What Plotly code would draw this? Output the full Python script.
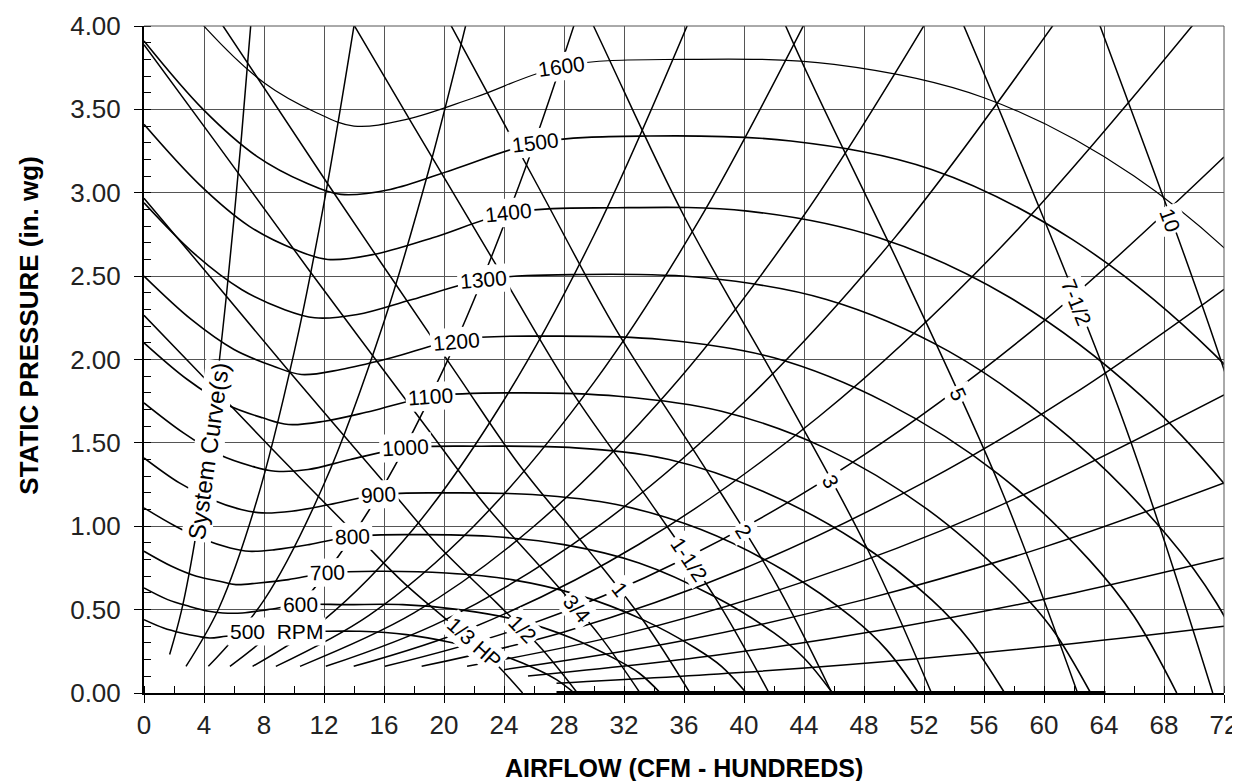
import plotly.graph_objects as go

# ---------------- RPM curves (x = CFM hundreds, y = in. wg) ----------------
rpm1600_x = [0, 4.2, 8.0, 11.5, 14.0, 17.5, 22, 28, 36, 46, 56, 66, 76, 84, 88, 91.8]
rpm1600_y = [4.45, 3.98, 3.66, 3.48, 3.40, 3.44, 3.57, 3.76, 3.80, 3.77, 3.57, 3.10, 2.32, 1.42, 0.82, 0.0]
rpm1500_x = [0, 3.94, 7.50, 10.78, 13.13, 16.41, 20.63, 26.25, 33.75, 43.13, 52.5, 61.88, 71.25, 78.75, 82.5, 86.06]
rpm1500_y = [3.91, 3.50, 3.22, 3.06, 2.99, 3.02, 3.14, 3.30, 3.34, 3.31, 3.14, 2.72, 2.04, 1.25, 0.72, 0.0]
rpm1400_x = [0, 3.68, 7.0, 10.06, 12.25, 15.31, 19.25, 24.5, 31.5, 40.25, 49.0, 57.75, 66.5, 73.5, 77.0, 80.33]
rpm1400_y = [3.41, 3.05, 2.80, 2.66, 2.60, 2.63, 2.73, 2.88, 2.91, 2.89, 2.73, 2.37, 1.78, 1.09, 0.63, 0.0]
rpm1300_x = [0, 3.41, 6.5, 9.34, 11.38, 14.22, 17.88, 22.75, 29.25, 37.38, 45.5, 53.63, 61.75, 68.25, 71.5, 74.59]
rpm1300_y = [2.94, 2.63, 2.42, 2.30, 2.25, 2.27, 2.36, 2.48, 2.51, 2.49, 2.36, 2.05, 1.53, 0.94, 0.54, 0.0]
rpm1200_x = [0, 3.15, 6.0, 8.63, 10.5, 13.13, 16.5, 21.0, 27.0, 34.5, 42.0, 49.5, 57.0, 63.0, 66.0, 68.85]
rpm1200_y = [2.50, 2.24, 2.06, 1.96, 1.91, 1.94, 2.01, 2.12, 2.14, 2.12, 2.01, 1.74, 1.31, 0.80, 0.46, 0.0]
rpm1100_x = [0, 2.89, 5.5, 7.91, 9.63, 12.03, 15.13, 19.25, 24.75, 31.63, 38.5, 45.38, 52.25, 57.75, 60.5, 63.11]
rpm1100_y = [2.10, 1.88, 1.73, 1.65, 1.61, 1.63, 1.69, 1.78, 1.80, 1.78, 1.69, 1.47, 1.10, 0.67, 0.39, 0.0]
rpm1000_x = [0, 2.63, 5.0, 7.19, 8.75, 10.94, 13.75, 17.5, 22.5, 28.75, 35.0, 41.25, 47.5, 52.5, 55.0, 57.38]
rpm1000_y = [1.74, 1.56, 1.43, 1.36, 1.33, 1.34, 1.40, 1.47, 1.48, 1.47, 1.40, 1.21, 0.91, 0.56, 0.32, 0.0]
rpm900_x = [0, 2.36, 4.5, 6.47, 7.88, 9.84, 12.38, 15.75, 20.25, 25.88, 31.5, 37.13, 42.75, 47.25, 49.5, 51.64]
rpm900_y = [1.41, 1.26, 1.16, 1.10, 1.08, 1.09, 1.13, 1.19, 1.20, 1.19, 1.13, 0.98, 0.73, 0.45, 0.26, 0.0]
rpm800_x = [0, 2.1, 4.0, 5.75, 7.0, 8.75, 11.0, 14.0, 18.0, 23.0, 28.0, 33.0, 38.0, 42.0, 44.0, 45.9]
rpm800_y = [1.11, 1.00, 0.92, 0.87, 0.85, 0.86, 0.89, 0.94, 0.95, 0.94, 0.89, 0.78, 0.58, 0.36, 0.21, 0.0]
rpm700_x = [0, 1.84, 3.5, 5.03, 6.13, 7.66, 9.63, 12.25, 15.75, 20.13, 24.5, 28.88, 33.25, 36.75, 38.5, 40.16]
rpm700_y = [0.85, 0.76, 0.70, 0.67, 0.65, 0.66, 0.68, 0.72, 0.73, 0.72, 0.68, 0.59, 0.44, 0.27, 0.16, 0.0]
rpm600_x = [0, 1.58, 3.0, 4.31, 5.25, 6.56, 8.25, 10.5, 13.5, 17.25, 21.0, 24.75, 28.5, 31.5, 33.0, 34.43]
rpm600_y = [0.63, 0.56, 0.52, 0.49, 0.48, 0.48, 0.50, 0.53, 0.53, 0.53, 0.50, 0.44, 0.33, 0.20, 0.12, 0.0]
rpm500_x = [0, 1.31, 2.5, 3.59, 4.38, 5.47, 6.88, 8.75, 11.25, 14.38, 17.5, 20.63, 23.75, 26.25, 27.5, 28.69]
rpm500_y = [0.44, 0.39, 0.36, 0.34, 0.33, 0.34, 0.35, 0.37, 0.37, 0.37, 0.35, 0.30, 0.23, 0.14, 0.08, 0.0]

rpm_label_text = ["1600", "1500", "1400", "1300", "1200", "1100", "1000", "900", "800", "700", "600",
                  "500\u00a0\u00a0RPM"]
rpm_label_x = [27.8, 26.1, 24.3, 22.6, 20.85, 19.1, 17.4, 15.6, 13.9, 12.2, 10.4, 8.8]
rpm_label_y = [3.76, 3.30, 2.88, 2.48, 2.11, 1.78, 1.47, 1.19, 0.94, 0.72, 0.53, 0.37]
rpm_label_angle = [-8, -7, -6, -5, -5, -4, -3, -3, -2, -2, -1, 0]

# ---------------- Brake horsepower lines ----------------
hp13_x = [0, 3.654, 8.459, 14.42, 17.34, 20.52, 23.16, 25.24]
hp13_y = [2.265, 1.923, 1.471, 0.923, 0.659, 0.413, 0.202, 0.0]
hp12_x = [0, 4.183, 9.683, 16.51, 19.84, 23.49, 26.51, 28.89]
hp12_y = [2.967, 2.520, 1.928, 1.210, 0.863, 0.542, 0.265, 0.0]
hp34_x = [0, 4.788, 11.08, 18.90, 22.72, 26.89, 30.35, 33.07]
hp34_y = [3.888, 3.302, 2.526, 1.585, 1.131, 0.710, 0.347, 0.0]
hp1_x = [0, 5.27, 12.2, 20.8, 25.0, 29.6, 33.4, 36.4]
hp1_y = [4.71, 4.00, 3.06, 1.92, 1.37, 0.86, 0.42, 0.0]
hp1h_x = [0, 6.033, 13.97, 23.81, 28.62, 33.88, 38.23, 41.67]
hp1h_y = [6.172, 5.242, 4.010, 2.516, 1.795, 1.127, 0.550, 0.0]
hp2_x = [0, 6.640, 15.37, 26.21, 31.50, 37.29, 42.08, 45.86]
hp2_y = [7.477, 6.350, 4.857, 3.048, 2.175, 1.365, 0.667, 0.0]
hp3_x = [0, 7.600, 17.59, 30.00, 36.06, 42.69, 48.17, 52.50]
hp3_y = [9.797, 8.320, 6.365, 3.994, 2.850, 1.789, 0.874, 0.0]
hp5_x = [0, 9.012, 20.86, 35.57, 42.75, 50.62, 57.11, 62.24]
hp5_y = [13.77, 11.70, 8.947, 5.614, 4.006, 2.515, 1.228, 0.0]
hp7h_x = [0, 10.32, 23.88, 40.71, 48.94, 57.94, 65.38, 71.25]
hp7h_y = [18.05, 15.33, 11.72, 7.356, 5.249, 3.295, 1.609, 0.0]
hp10_x = [0, 11.35, 26.28, 44.81, 53.86, 63.77, 71.96, 78.42]
hp10_y = [21.86, 18.57, 14.20, 8.912, 6.359, 3.992, 1.950, 0.0]

hp_label_text = ["1/3 HP", "1/2", "3/4", "1", "1-1/2", "2", "3", "5", "7-1/2", "10"]
hp_label_x = [22.0, 25.2, 28.85, 31.75, 36.34, 40.0, 45.79, 54.29, 62.15, 68.4]
hp_label_y = [0.30, 0.385, 0.505, 0.62, 0.80, 0.97, 1.27, 1.79, 2.34, 2.84]
hp_label_angle = [42, 46, 50, 52, 56, 58, 62, 66, 68, 70]

# ---------------- System curves ----------------
sc01_x = [1.71, 2.5, 3.5, 4.5, 5.5, 6.5, 7.2]
sc01_y = [0.231, 0.494, 0.968, 1.600, 2.390, 3.338, 4.095]
sc02_x = [2.80, 5, 7.5, 10, 12, 14.2]
sc02_y = [0.160, 0.510, 1.148, 2.040, 2.938, 4.113]
sc03_x = [4.29, 8, 12, 16, 19, 21.6]
sc03_y = [0.160, 0.557, 1.253, 2.227, 3.141, 4.059]
sc04_x = [5.73, 10, 15, 20, 25, 29]
sc04_y = [0.160, 0.487, 1.096, 1.948, 3.044, 4.096]
sc05_x = [7.24, 12, 18, 24, 30, 36.5]
sc05_y = [0.160, 0.439, 0.988, 1.757, 2.745, 4.063]
sc06_x = [8.79, 15, 22, 30, 37, 44.2]
sc06_y = [0.160, 0.466, 1.002, 1.863, 2.834, 4.044]
sc07_x = [10.40, 18, 26, 35, 44, 52.2]
sc07_y = [0.160, 0.480, 1.000, 1.813, 2.865, 4.033]
sc08_x = [12.12, 20, 30, 40, 50, 60.8]
sc08_y = [0.160, 0.436, 0.981, 1.744, 2.725, 4.029]
sc09_x = [13.98, 22, 33, 45, 57, 70.2]
sc09_y = [0.160, 0.396, 0.892, 1.658, 2.661, 4.036]
sc10_x = [16.06, 25, 36, 48, 60, 72]
sc10_y = [0.160, 0.3875, 0.8035, 1.4285, 2.232, 3.214]
sc11_x = [18.51, 28, 40, 52, 62, 72]
sc11_y = [0.160, 0.366, 0.747, 1.263, 1.795, 2.421]
sc12_x = [21.54, 32, 44, 56, 72]
sc12_y = [0.160, 0.353, 0.668, 1.082, 1.788]
sc13_x = [24.0, 36, 48, 60, 72]
sc13_y = [0.140, 0.315, 0.560, 0.875, 1.260]
sc14_x = [25.6, 38, 50, 62, 72]
sc14_y = [0.102, 0.225, 0.390, 0.600, 0.809]
sc15_x = [27.5, 40, 52, 62, 72]
sc15_y = [0.058, 0.124, 0.209, 0.297, 0.400]

system_label_text = "System Curve(s)"
system_label_x = 4.28
system_label_y = 1.45

baseline_x = [27.5, 64.1]
baseline_y = [0.0, 0.0]

x_ticks = [0, 4, 8, 12, 16, 20, 24, 28, 32, 36, 40, 44, 48, 52, 56, 60, 64, 68, 72]
y_ticks = [0.0, 0.5, 1.0, 1.5, 2.0, 2.5, 3.0, 3.5, 4.0]

x_title = "AIRFLOW (CFM - HUNDREDS)"
y_title = "STATIC PRESSURE (in. wg)"

FONT = "Liberation Sans, Arial, Helvetica, sans-serif"

fig = go.Figure()

def add_curve(xs, ys, width=1.6):
    fig.add_trace(go.Scatter(x=xs, y=ys, mode="lines", hoverinfo="skip",
                             line=dict(color="black", width=width, shape="spline", smoothing=1.0)))

rpm_curves = [(rpm1600_x, rpm1600_y), (rpm1500_x, rpm1500_y), (rpm1400_x, rpm1400_y),
              (rpm1300_x, rpm1300_y), (rpm1200_x, rpm1200_y), (rpm1100_x, rpm1100_y),
              (rpm1000_x, rpm1000_y), (rpm900_x, rpm900_y), (rpm800_x, rpm800_y),
              (rpm700_x, rpm700_y), (rpm600_x, rpm600_y), (rpm500_x, rpm500_y)]
hp_curves = [(hp13_x, hp13_y), (hp12_x, hp12_y), (hp34_x, hp34_y), (hp1_x, hp1_y),
             (hp1h_x, hp1h_y), (hp2_x, hp2_y), (hp3_x, hp3_y), (hp5_x, hp5_y),
             (hp7h_x, hp7h_y), (hp10_x, hp10_y)]
sys_curves = [(sc01_x, sc01_y), (sc02_x, sc02_y), (sc03_x, sc03_y), (sc04_x, sc04_y),
              (sc05_x, sc05_y), (sc06_x, sc06_y), (sc07_x, sc07_y), (sc08_x, sc08_y),
              (sc09_x, sc09_y), (sc10_x, sc10_y), (sc11_x, sc11_y), (sc12_x, sc12_y),
              (sc13_x, sc13_y), (sc14_x, sc14_y), (sc15_x, sc15_y)]

for xs, ys in sys_curves:
    add_curve(xs, ys, 1.5)
for xs, ys in hp_curves:
    add_curve(xs, ys, 1.5)
for i, (xs, ys) in enumerate(rpm_curves):
    add_curve(xs, ys, 1.2 if i == 0 else 1.6)

fig.add_trace(go.Scatter(x=baseline_x, y=baseline_y, mode="lines", hoverinfo="skip",
                         line=dict(color="black", width=4)))

annotations = []
for t, x, y, a in zip(rpm_label_text, rpm_label_x, rpm_label_y, rpm_label_angle):
    annotations.append(dict(x=x, y=y, xref="x", yref="y", text=t, showarrow=False,
                            textangle=a, bgcolor="white", borderpad=2,
                            font=dict(family=FONT, size=21, color="black")))
for t, x, y, a in zip(hp_label_text, hp_label_x, hp_label_y, hp_label_angle):
    annotations.append(dict(x=x, y=y, xref="x", yref="y", text=t, showarrow=False,
                            textangle=a, bgcolor="white", borderpad=2,
                            font=dict(family=FONT, size=21, color="black")))
annotations.append(dict(x=system_label_x, y=system_label_y, xref="x", yref="y",
                        text=system_label_text, showarrow=False, textangle=-82,
                        bgcolor="white", borderpad=1,
                        font=dict(family=FONT, size=24, color="black")))
# axis titles
annotations.append(dict(x=0.5, y=-0.1124, xref="paper", yref="paper",
                        xanchor="center", yanchor="middle", showarrow=False,
                        text="<b>" + x_title + "</b>",
                        font=dict(family=FONT, size=25, color="black")))
annotations.append(dict(x=-0.106, y=0.55, xref="paper", yref="paper",
                        xanchor="center", yanchor="middle", showarrow=False, textangle=-90,
                        text="<b>" + y_title + "</b>",
                        font=dict(family=FONT, size=26, color="black")))

fig.update_layout(
    width=1240, height=781,
    margin=dict(l=136, r=24, t=18, b=96, autoexpand=False),
    plot_bgcolor="white", paper_bgcolor="white",
    showlegend=False,
    annotations=annotations,
    shapes=[
        dict(type="line", xref="paper", yref="paper", x0=0, x1=1, y0=1, y1=1,
             line=dict(color="#555", width=1)),
        dict(type="line", xref="paper", yref="paper", x0=1, x1=1, y0=0, y1=1,
             line=dict(color="#555", width=1)),
    ],
)

fig.update_xaxes(
    range=[0, 72], tickmode="array", tickvals=x_ticks,
    ticktext=[str(v) for v in x_ticks],
    automargin=False,
    showgrid=True, gridcolor="#555", gridwidth=1,
    showline=True, linecolor="black", linewidth=2,
    ticks="outside", ticklen=8, tickcolor="black", tickwidth=1,
    tickfont=dict(family=FONT, size=26, color="#222"),
    minor=dict(dtick=2, tick0=0, ticks="inside", ticklen=7, tickcolor="black", showgrid=False),
    zeroline=False,
)
fig.update_yaxes(
    range=[0, 4], tickmode="array", tickvals=y_ticks,
    ticktext=["%.2f" % v for v in y_ticks],
    automargin=False,
    showgrid=True, gridcolor="#555", gridwidth=1,
    showline=True, linecolor="black", linewidth=2,
    ticks="outside", ticklen=8, tickcolor="black", tickwidth=1,
    ticklabelstandoff=8,
    tickfont=dict(family=FONT, size=26, color="#222"),
    minor=dict(dtick=0.1, tick0=0, ticks="inside", ticklen=7, tickcolor="black", showgrid=False),
    zeroline=False,
)

fig.write_html("out.html")
